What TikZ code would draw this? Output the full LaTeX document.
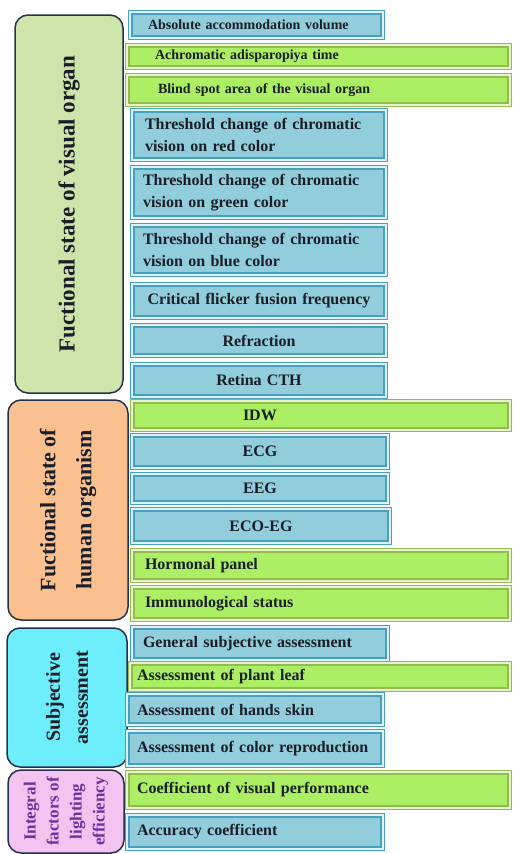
\documentclass[tikz,border=0pt]{standalone}
\usepackage{fontspec}
\setmainfont{Liberation Serif}
\usepackage{xcolor}
\usepackage{tikz}
\definecolor{panelblue}{RGB}{146,205,220}
\definecolor{edgeblue}{RGB}{70,160,190}
\definecolor{gapblue}{RGB}{220,242,248}
\definecolor{panelgreen}{RGB}{172,238,100}
\definecolor{edgegreen}{RGB}{150,185,80}
\definecolor{gapgreen}{RGB}{228,245,205}
\definecolor{groupline}{RGB}{35,50,75}
\definecolor{visualgreen}{RGB}{205,228,170}
\definecolor{organpeach}{RGB}{250,192,144}
\definecolor{subjcyan}{RGB}{110,238,250}
\definecolor{integralpink}{RGB}{245,195,240}
\definecolor{integralpurple}{RGB}{112,48,160}
\definecolor{inkdark}{RGB}{25,30,40}
\tikzset{
  bluebox/.style={draw=edgeblue, line width=1.2pt, double=gapblue, double distance=2.4pt, fill=panelblue, inner ysep=0pt, text=inkdark},
  greenbox/.style={draw=edgegreen, line width=1.2pt, double=gapgreen, double distance=2.4pt, fill=panelgreen, inner ysep=0pt, text=inkdark},
  groupbox/.style={draw=groupline, line width=1.5pt, rounded corners=13pt, rotate=90, align=center, inner sep=0pt, text=inkdark},
  bigtext/.style={font=\bfseries\fontsize{16}{22}\selectfont},
  smalltext/.style={font=\bfseries\fontsize{14}{17}\selectfont}
}
\begin{document}
\begin{tikzpicture}[x=1pt, y=-1pt]
    \useasboundingbox (0,0) rectangle (513,854);

    % Left group boxes
    \node[groupbox, fill=visualgreen, minimum width=378, minimum height=108, font=\bfseries\fontsize{23}{28}\selectfont] (visual) at (69,204) {Fuctional state of visual organ};
    \node[groupbox, fill=organpeach, minimum width=220, minimum height=120, font=\bfseries\fontsize{22}{36}\selectfont] (organism) at (68,510) {Fuctional state of\\human organism};
    \node[groupbox, fill=subjcyan, minimum width=139, minimum height=120, font=\bfseries\fontsize{20}{28}\selectfont] (subjective) at (67,697.5) {Subjective\\assessment};
    \node[groupbox, fill=integralpink, text=integralpurple, minimum width=83, minimum height=116, font=\bfseries\fontsize{17}{23}\selectfont] (integral) at (66,811.5) {Integral\\factors of\\lighting\\efficiency};

    % Visual organ indicators
    \node[bluebox, smalltext, minimum height=25.6, text width=217pt, inner xsep=17.8pt, align=left] (absvol) at (256.5,25) {Absolute accommodation volume};
    \node[greenbox, smalltext, minimum height=22.6, text width=327pt, inner xsep=27.8pt, align=left] (achrom) at (318.5,56.5) {Achromatic adisparopiya time};
    \node[greenbox, smalltext, minimum height=29.6, text width=321pt, inner xsep=30.8pt, align=left] (blind) at (318.5,90) {Blind spot area of the visual organ};
    \node[bluebox, bigtext, minimum height=49.6, text width=228pt, inner xsep=12.8pt, align=left] (thred) at (259,135) {Threshold change of chromatic\\vision on red color};
    \node[bluebox, bigtext, minimum height=50.6, text width=232pt, inner xsep=10.8pt, align=left] (thgreen) at (259,192.5) {Threshold change of chromatic\\vision on green color};
    \node[bluebox, bigtext, minimum height=49.6, text width=232pt, inner xsep=10.8pt, align=left] (thblue) at (259,250) {Threshold change of chromatic\\vision on blue color};
    \node[bluebox, bigtext, minimum height=33.6, text width=243.6pt, inner xsep=5pt, align=center] (flicker) at (259,301) {Critical flicker fusion frequency};
    \node[bluebox, bigtext, minimum height=30.6, text width=243.6pt, inner xsep=5pt, align=center] (refract) at (259,340.5) {Refraction};
    \node[bluebox, bigtext, minimum height=32.6, text width=243.6pt, inner xsep=5pt, align=center] (retina) at (259,380.5) {Retina CTH};

    % Organism indicators
    \node[greenbox, bigtext, minimum height=28.6, text width=156pt, inner xsep=110.8pt, align=left] (idw) at (321,415.5) {IDW};
    \node[bluebox, bigtext, minimum height=32.6, text width=245.6pt, inner xsep=5pt, align=center] (ecg) at (260,451.5) {ECG};
    \node[bluebox, bigtext, minimum height=28.6, text width=245.6pt, inner xsep=5pt, align=center] (eeg) at (260,488.5) {EEG};
    \node[bluebox, bigtext, minimum height=33.6, text width=247.6pt, inner xsep=5pt, align=center] (ecoeg) at (261,526) {ECO-EG};
    \node[greenbox, bigtext, minimum height=30.6, text width=352pt, inner xsep=12.8pt, align=left] (hormon) at (321,565.5) {Hormonal panel};
    \node[greenbox, bigtext, minimum height=32.6, text width=352pt, inner xsep=12.8pt, align=left] (immuno) at (321,603.5) {Immunological status};

    % Subjective assessment
    \node[bluebox, bigtext, minimum height=32.6, text width=234pt, inner xsep=10.8pt, align=left] (general) at (260,643.5) {General subjective assessment};
    \node[greenbox, bigtext, minimum height=26.6, text width=366pt, inner xsep=6.8pt, align=left] (leaf) at (320,676.5) {Assessment of plant leaf};
    \node[bluebox, bigtext, minimum height=30.6, text width=236pt, inner xsep=9.8pt, align=left] (hands) at (255,709.5) {Assessment of hands skin};
    \node[bluebox, bigtext, minimum height=34.6, text width=236pt, inner xsep=9.8pt, align=left] (colorrep) at (255,748.5) {Assessment of color reproduction};

    % Integral factors
    \node[greenbox, bigtext, minimum height=35.6, text width=363pt, inner xsep=9.8pt, align=left] (coefvis) at (318.5,790) {Coefficient of visual performance};
    \node[bluebox, bigtext, minimum height=33.6, text width=236pt, inner xsep=9.8pt, align=left] (accuracy) at (255,832) {Accuracy coefficient};
\end{tikzpicture}
\end{document}
